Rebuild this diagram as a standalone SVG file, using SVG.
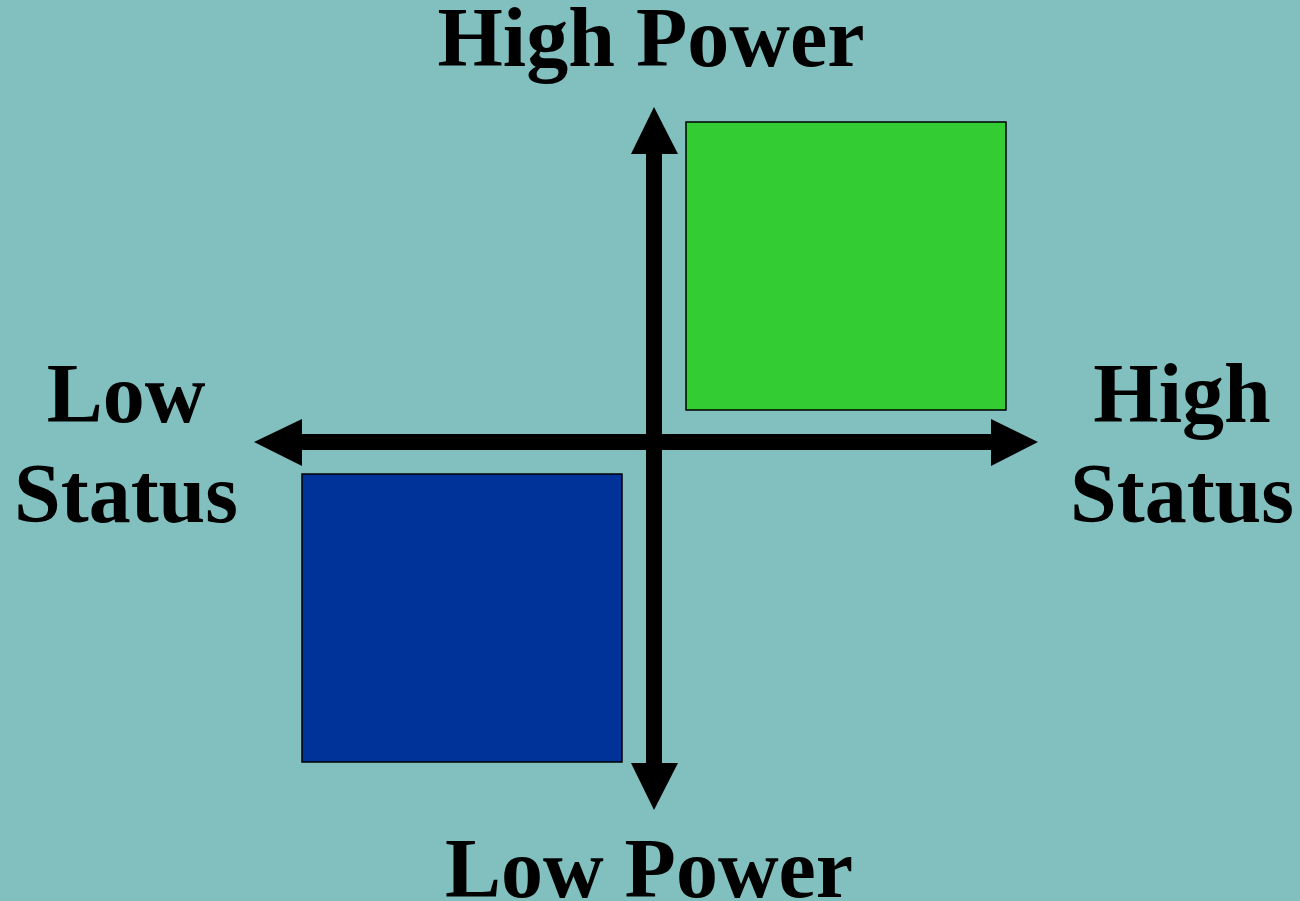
<svg xmlns="http://www.w3.org/2000/svg" width="1300" height="901" viewBox="0 0 1300 901">
<style>
.lbl{font-family:"Liberation Serif","Times New Roman",serif;font-weight:bold;font-size:84px;fill:#000;text-anchor:middle}
.box{stroke:#000;stroke-width:1.5}
</style>
<rect x="0" y="0" width="1300" height="901" fill="#82C0C0"/>
<g id="connectors" fill="#000">
<rect x="646" y="150" width="16" height="618"/>
<rect x="298" y="434" width="697" height="16"/>
<polygon points="654,107 678,154 631,154"/>
<polygon points="654,810 678,763 631,763"/>
<polygon points="254,442 302,419 302,466"/>
<polygon points="1038,442 991,419 991,466"/>
</g>
<g id="high-power-high-status"><rect class="box" x="686" y="122" width="320" height="288" fill="#33CC33"/></g>
<g id="low-power-low-status"><rect class="box" x="302" y="474" width="320" height="288" fill="#003399"/></g>
<g id="label-high-power"><text class="lbl" x="651" y="66">High Power</text></g>
<g id="label-low-power"><text class="lbl" x="649" y="897">Low Power</text></g>
<g id="label-low-status"><text class="lbl" x="126" y="422">Low</text><text class="lbl" x="126" y="522">Status</text></g>
<g id="label-high-status"><text class="lbl" x="1182" y="422">High</text><text class="lbl" x="1182" y="522">Status</text></g>
</svg>
